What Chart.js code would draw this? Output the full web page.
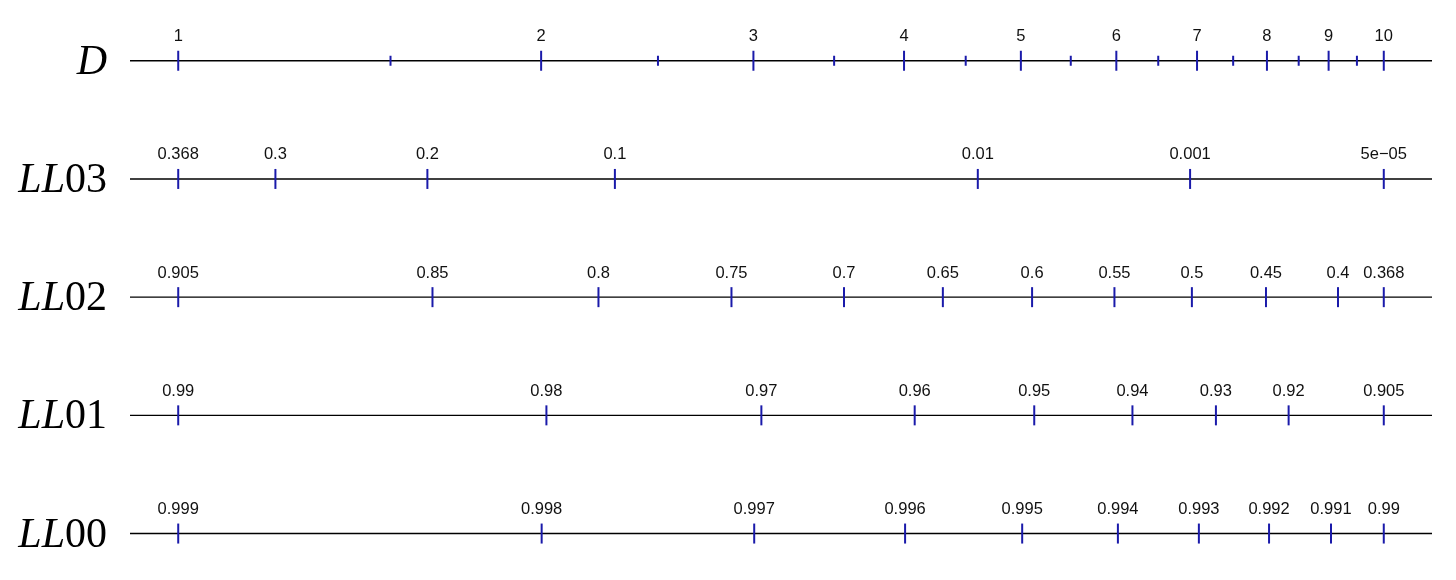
<!DOCTYPE html>
<html lang="en">
<head>
    <meta charset="UTF-8">
    <title>Log-log slide rule scales</title>
    <script src="https://cdn.jsdelivr.net/npm/chart.js@4.4.1/dist/chart.umd.min.js"></script>
    <style>
        html, body {
            margin: 0;
            padding: 0;
            background: #ffffff;
        }
        #wrap {
            width: 1456px;
            height: 580px;
        }
    </style>
</head>
<body>
    <div id="wrap"><canvas id="scales"></canvas></div>

    <script>
        // Scale names, top to bottom
        const scaleNames = ["D", "LL03", "LL02", "LL01", "LL00"];

        // D scale
        const dValues = [1, 2, 3, 4, 5, 6, 7, 8, 9, 10];
        const dLabels = ["1", "2", "3", "4", "5", "6", "7", "8", "9", "10"];
        const dMinor = [1.5, 2.5, 3.5, 4.5, 5.5, 6.5, 7.5, 8.5, 9.5];

        // LL03: e^-x, x from 1 to 10
        const ll03Values = [0.36788, 0.3, 0.2, 0.1, 0.01, 0.001, 0.0000454];
        const ll03Labels = ["0.368", "0.3", "0.2", "0.1", "0.01", "0.001", "5e\u221205"];

        // LL02: e^-x/10
        const ll02Values = [0.904837, 0.85, 0.8, 0.75, 0.7, 0.65, 0.6, 0.55, 0.5, 0.45, 0.4, 0.36788];
        const ll02Labels = ["0.905", "0.85", "0.8", "0.75", "0.7", "0.65", "0.6", "0.55", "0.5", "0.45", "0.4", "0.368"];

        // LL01: e^-x/100
        const ll01Values = [0.99005, 0.98, 0.97, 0.96, 0.95, 0.94, 0.93, 0.92, 0.904837];
        const ll01Labels = ["0.99", "0.98", "0.97", "0.96", "0.95", "0.94", "0.93", "0.92", "0.905"];

        // LL00: e^-x/1000
        const ll00Values = [0.9990005, 0.998, 0.997, 0.996, 0.995, 0.994, 0.993, 0.992, 0.991, 0.99005];
        const ll00Labels = ["0.999", "0.998", "0.997", "0.996", "0.995", "0.994", "0.993", "0.992", "0.991", "0.99"];

        // position along the rule, in decades of the D scale
        const posD = v => Math.log10(v);
        const posLL = mult => v => Math.log10(-Math.log(v) * mult);

        const rows = [
            { values: dValues, labels: dLabels, minor: dMinor, pos: posD },
            { values: ll03Values, labels: ll03Labels, minor: [], pos: posLL(1) },
            { values: ll02Values, labels: ll02Labels, minor: [], pos: posLL(10) },
            { values: ll01Values, labels: ll01Labels, minor: [], pos: posLL(100) },
            { values: ll00Values, labels: ll00Labels, minor: [], pos: posLL(1000) }
        ];

        const tickBlue = "#1a1aaa";
        const datasets = [];

        rows.forEach((r, i) => {
            // the rule line itself
            datasets.push({
                type: "line",
                data: [{ x: -0.04, y: i }, { x: 1.04, y: i }],
                borderColor: "#000000",
                borderWidth: 1.4,
                pointRadius: 0,
                order: 2
            });
            // major ticks
            datasets.push({
                type: "scatter",
                data: r.values.map((v, k) => ({ x: r.pos(v), y: i, label: r.labels[k] })),
                pointStyle: "line",
                rotation: 90,
                pointRadius: 10,
                borderColor: tickBlue,
                borderWidth: 2,
                order: 1,
                isMajor: true
            });
            if (r.minor.length) {
                datasets.push({
                    type: "scatter",
                    data: r.minor.map(v => ({ x: r.pos(v), y: i })),
                    pointStyle: "line",
                    rotation: 90,
                    pointRadius: 5,
                    borderColor: tickBlue,
                    borderWidth: 2,
                    order: 1
                });
            }
        });

        // tick labels above the rule and scale names on the left
        const labelPlugin = {
            id: "ruleLabels",
            afterDatasetsDraw(chart) {
                const ctx = chart.ctx;
                const xs = chart.scales.x;
                const ys = chart.scales.y;
                ctx.save();
                ctx.fillStyle = "#111111";
                ctx.font = '16.5px "Liberation Sans", Arial, sans-serif';
                ctx.textAlign = "center";
                ctx.textBaseline = "middle";
                chart.data.datasets.forEach(ds => {
                    if (!ds.isMajor) return;
                    ds.data.forEach(p => {
                        ctx.fillText(p.label, xs.getPixelForValue(p.x), ys.getPixelForValue(p.y) - 24);
                    });
                });

                ctx.fillStyle = "#000000";
                ctx.textBaseline = "alphabetic";
                ctx.textAlign = "left";
                const italic = 'italic 42px "Liberation Serif", "Times New Roman", serif';
                const upright = '42px "Liberation Serif", "Times New Roman", serif';
                const right = 107;
                scaleNames.forEach((name, i) => {
                    const base = ys.getPixelForValue(i) + 13;
                    const head = name.startsWith("LL") ? "LL" : name;
                    const tail = name.startsWith("LL") ? name.slice(2) : "";
                    ctx.font = upright;
                    const wTail = ctx.measureText(tail).width;
                    ctx.font = italic;
                    const wHead = ctx.measureText(head).width;
                    const x0 = right - wTail - wHead;
                    ctx.fillText(head, x0, base);
                    ctx.font = upright;
                    ctx.fillText(tail, x0 + wHead, base);
                });
                ctx.restore();
            }
        };

        new Chart(document.getElementById("scales"), {
            type: "scatter",
            data: { datasets: datasets },
            options: {
                responsive: true,
                maintainAspectRatio: false,
                animation: false,
                layout: { autoPadding: false, padding: { left: 130, right: 24, top: 0, bottom: 0 } },
                plugins: {
                    legend: { display: false },
                    tooltip: { enabled: false }
                },
                scales: {
                    x: { type: "linear", min: -0.04, max: 1.04, display: false },
                    y: { type: "linear", min: -0.514, max: 4.393, reverse: true, display: false }
                }
            },
            plugins: [labelPlugin]
        });
    </script>
</body>
</html>
